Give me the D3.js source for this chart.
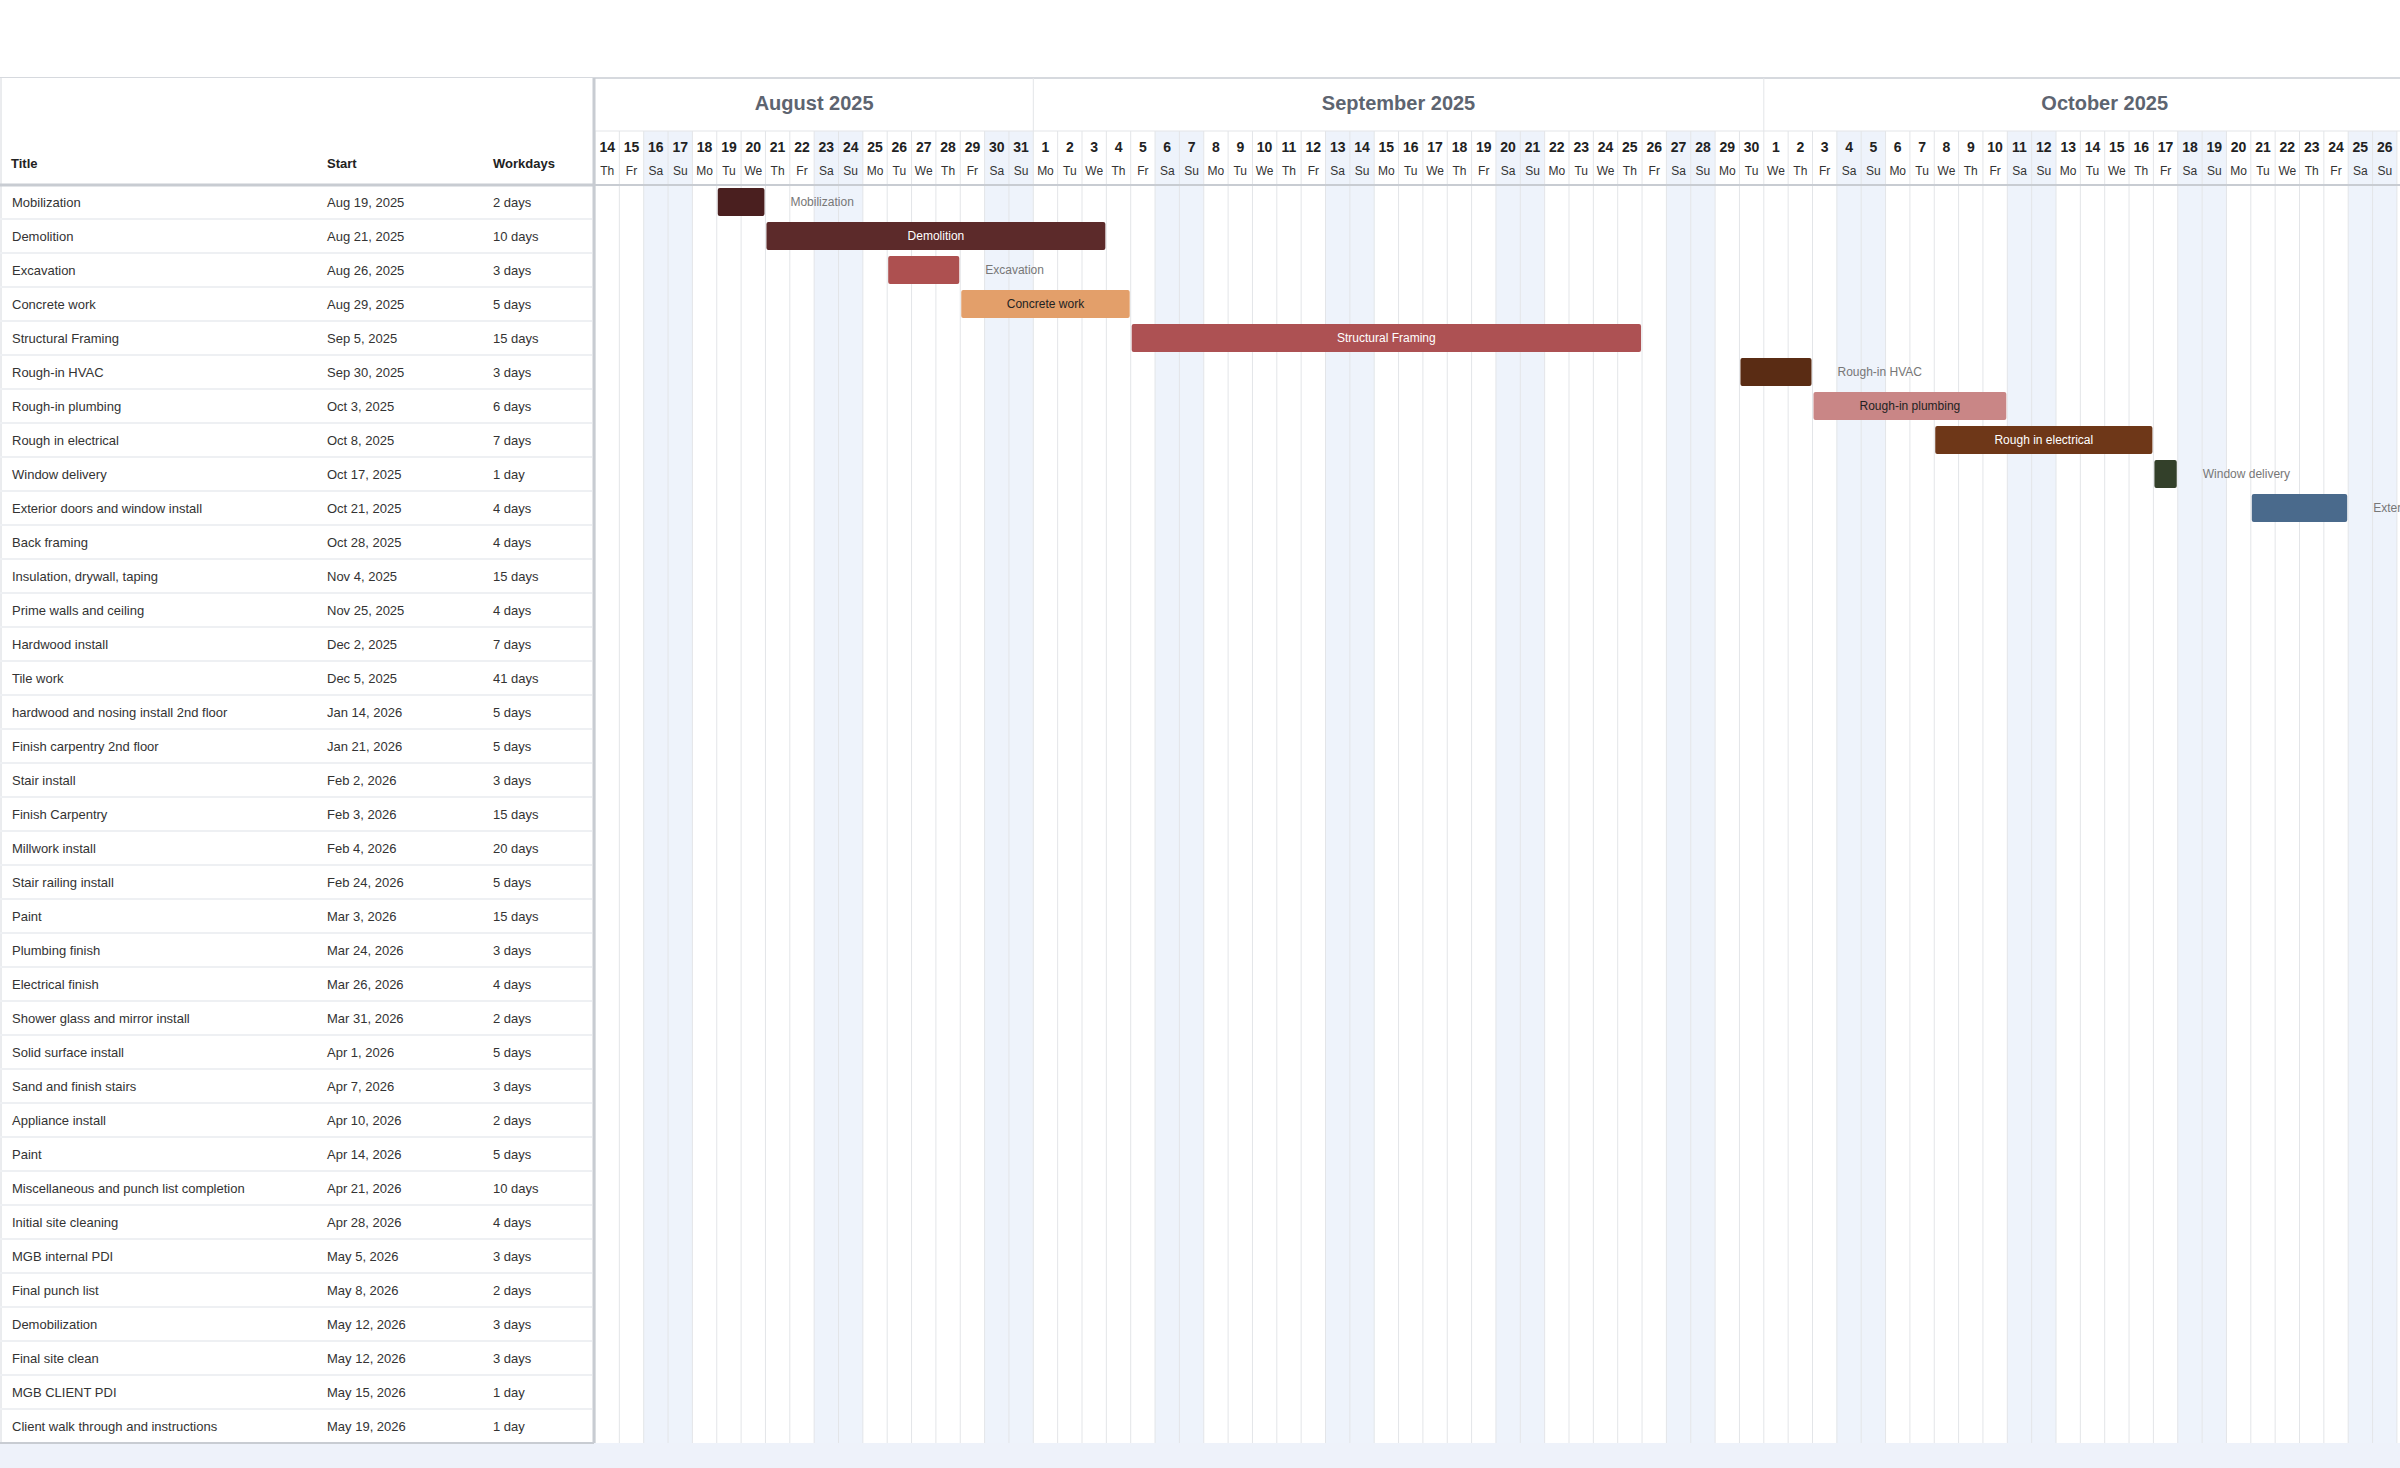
<!DOCTYPE html>
<html><head><meta charset="utf-8">
<script src="https://cdn.jsdelivr.net/npm/d3@7"></script>
<style>body{margin:0;background:#fff;font-family:"Liberation Sans",Arial,sans-serif}</style>
</head><body><svg id="c" width="2400" height="1468"></svg>
<script>
const titles=["Mobilization","Demolition","Excavation","Concrete work","Structural Framing","Rough-in HVAC","Rough-in plumbing","Rough in electrical","Window delivery","Exterior doors and window install","Back framing","Insulation, drywall, taping","Prime walls and ceiling","Hardwood install","Tile work","hardwood and nosing install 2nd floor","Finish carpentry 2nd floor","Stair install","Finish Carpentry","Millwork install","Stair railing install","Paint","Plumbing finish","Electrical finish","Shower glass and mirror install","Solid surface install","Sand and finish stairs","Appliance install","Paint","Miscellaneous and punch list completion","Initial site cleaning","MGB internal PDI","Final punch list","Demobilization","Final site clean","MGB CLIENT PDI","Client walk through and instructions"];
const starts=["2025-08-19","2025-08-21","2025-08-26","2025-08-29","2025-09-05","2025-09-30","2025-10-03","2025-10-08","2025-10-17","2025-10-21","2025-10-28","2025-11-04","2025-11-25","2025-12-02","2025-12-05","2026-01-14","2026-01-21","2026-02-02","2026-02-03","2026-02-04","2026-02-24","2026-03-03","2026-03-24","2026-03-26","2026-03-31","2026-04-01","2026-04-07","2026-04-10","2026-04-14","2026-04-21","2026-04-28","2026-05-05","2026-05-08","2026-05-12","2026-05-12","2026-05-15","2026-05-19"];
const workdays=[2,10,3,5,15,3,6,7,1,4,4,15,4,7,41,5,5,3,15,20,5,15,3,4,2,5,3,2,5,10,4,3,2,3,3,1,1];
const colors=["#4a1f1f","#5c2a2a","#ad5050","#e39f6a","#ad5153","#5a2c14","#c98686","#6e3718","#33402a","#4a6a8c","#7a5a3a","#5a6e8c","#ad5050","#6e3718","#4a6a8c","#c98686","#5c2a2a","#e39f6a","#33402a","#4a1f1f","#ad5153","#4a6a8c","#6e3718","#c98686","#5a2c14","#e39f6a","#33402a","#ad5050","#4a6a8c","#5c2a2a","#c98686","#6e3718","#e39f6a","#4a1f1f","#33402a","#ad5050","#5a6e8c"];
const lightBars=new Set(["#e39f6a","#c98686"]);
const viewStart=new Date(Date.UTC(2025,7,14)), viewEnd=new Date(Date.UTC(2025,9,29));

const svg=d3.select("#c");
const L=594, T0=78, headH=107, rowH=34, body0=T0+headH, dayW=24.35, monH=53;
const nDays=d3.utcDay.count(viewStart,viewEnd);
const x=d3.scaleUtc().domain([viewStart,viewEnd]).range([L+1,L+1+nDays*dayW]);
const y=d3.scaleBand().domain(d3.range(titles.length)).range([body0,body0+titles.length*rowH]);
const bottom=body0+titles.length*rowH;
const parse=d3.utcParse("%Y-%m-%d");
function endDate(s,n){let d=new Date(s),c=0;while(c<n){const w=d.getUTCDay();if(w!==0&&w!==6)c++;d=d3.utcDay.offset(d,1);}return d;}
const tasks=titles.map((t,i)=>{const s=parse(starts[i]);return{t,s,e:endDate(s,workdays[i]),n:workdays[i],c:colors[i],i};});

svg.append("rect").attr("x",0).attr("y",bottom).attr("width",2400).attr("height",1468-bottom).attr("fill","#eef2fa");
svg.append("line").attr("x1",0).attr("x2",2400).attr("y1",T0).attr("y2",T0).attr("stroke","#d6d9de").attr("stroke-width",2);

const days=d3.utcDay.range(viewStart,viewEnd);
const g=svg.append("g");
g.selectAll(".we").data(days.filter(d=>d.getUTCDay()%6===0)).join("rect")
 .attr("x",d=>x(d)).attr("y",T0+monH).attr("width",dayW).attr("height",bottom-T0-monH).attr("fill","#eef3fb");
g.selectAll(".gl").data(days).join("line").attr("x1",d=>x(d)).attr("x2",d=>x(d))
 .attr("y1",T0+monH).attr("y2",bottom).attr("stroke","#e3e5e8").attr("stroke-width",1);
const months=d3.utcMonth.range(d3.utcMonth.floor(viewStart),viewEnd);
months.forEach(m=>{
  const a=Math.max(x(m),x(viewStart)), b=Math.min(x(d3.utcMonth.offset(m,1)),x(viewEnd));
  if(x(m)>L+2) svg.append("line").attr("x1",x(m)).attr("x2",x(m)).attr("y1",T0).attr("y2",T0+monH).attr("stroke","#e3e5e8");
  svg.append("text").attr("x",(a+b)/2).attr("y",T0+32).attr("text-anchor","middle").attr("font-size",20).attr("font-weight","bold").attr("fill","#5d6470").text(d3.utcFormat("%B %Y")(m));
});
svg.append("line").attr("x1",L).attr("x2",2400).attr("y1",T0+monH).attr("y2",T0+monH).attr("stroke","#e3e5e8");
const dn=["Su","Mo","Tu","We","Th","Fr","Sa"];
svg.selectAll(".dnum").data(days).join("text").attr("x",d=>x(d)+dayW/2).attr("y",T0+74).attr("text-anchor","middle")
 .attr("font-size",14).attr("font-weight","bold").attr("fill","#222").text(d=>d.getUTCDate());
svg.selectAll(".dnm").data(days).join("text").attr("x",d=>x(d)+dayW/2).attr("y",T0+97).attr("text-anchor","middle")
 .attr("font-size",12).attr("fill","#333").text(d=>dn[d.getUTCDay()]);
svg.append("line").attr("x1",L).attr("x2",2400).attr("y1",body0).attr("y2",body0).attr("stroke","#c8ccd2").attr("stroke-width",2);

const bars=svg.append("g");
tasks.forEach(d=>{
  if(d.e<=viewStart||d.s>=viewEnd) return;
  const x0=x(d.s)+1,x1=x(d.e)-1,yy=y(d.i)+3,h=rowH-6;
  bars.append("rect").attr("x",x0).attr("y",yy).attr("width",x1-x0).attr("height",h).attr("rx",2).attr("fill",d.c);
  const fs=12, tw=d.t.length*6.2;
  if(tw+12<x1-x0){
    bars.append("text").attr("x",(x0+x1)/2).attr("y",yy+h/2+4).attr("text-anchor","middle").attr("font-size",fs)
     .attr("fill",lightBars.has(d.c)?"#222":"#fff").text(d.t);
  } else {
    bars.append("text").attr("x",x1+26).attr("y",yy+h/2+4).attr("font-size",fs).attr("fill","#777").text(d.t);
  }
});

const tb=svg.append("g");
tb.append("rect").attr("x",0).attr("y",T0).attr("width",L).attr("height",bottom-T0).attr("fill","#fff");
tb.append("line").attr("x1",L).attr("x2",L).attr("y1",T0).attr("y2",bottom).attr("stroke","#c8ccd2").attr("stroke-width",3);
tb.append("line").attr("x1",1).attr("x2",1).attr("y1",T0).attr("y2",bottom).attr("stroke","#d6d9de");
tb.append("line").attr("x1",0).attr("x2",L).attr("y1",body0).attr("y2",body0).attr("stroke","#c8ccd2").attr("stroke-width",3);
tb.append("line").attr("x1",0).attr("x2",L).attr("y1",bottom).attr("y2",bottom).attr("stroke","#c8ccd2").attr("stroke-width",2);
const cols=[11,327,493];
["Title","Start","Workdays"].forEach((h,i)=>tb.append("text").attr("x",cols[i]).attr("y",T0+90).attr("font-size",13).attr("font-weight","bold").attr("fill","#222").text(h));
const fmt=d3.utcFormat("%b %-d, %Y");
tasks.forEach(d=>{
  const cy=y(d.i)+rowH/2+5;
  if(d.i>0) tb.append("line").attr("x1",0).attr("x2",L-2).attr("y1",y(d.i)).attr("y2",y(d.i)).attr("stroke","#eef0f3").attr("stroke-width",2);
  tb.append("text").attr("x",12).attr("y",cy).attr("font-size",13).attr("fill","#333").text(d.t);
  tb.append("text").attr("x",cols[1]).attr("y",cy).attr("font-size",13).attr("fill","#333").text(fmt(d.s));
  tb.append("text").attr("x",cols[2]).attr("y",cy).attr("font-size",13).attr("fill","#333").text(d.n+(d.n===1?" day":" days"));
});
</script></body></html>
